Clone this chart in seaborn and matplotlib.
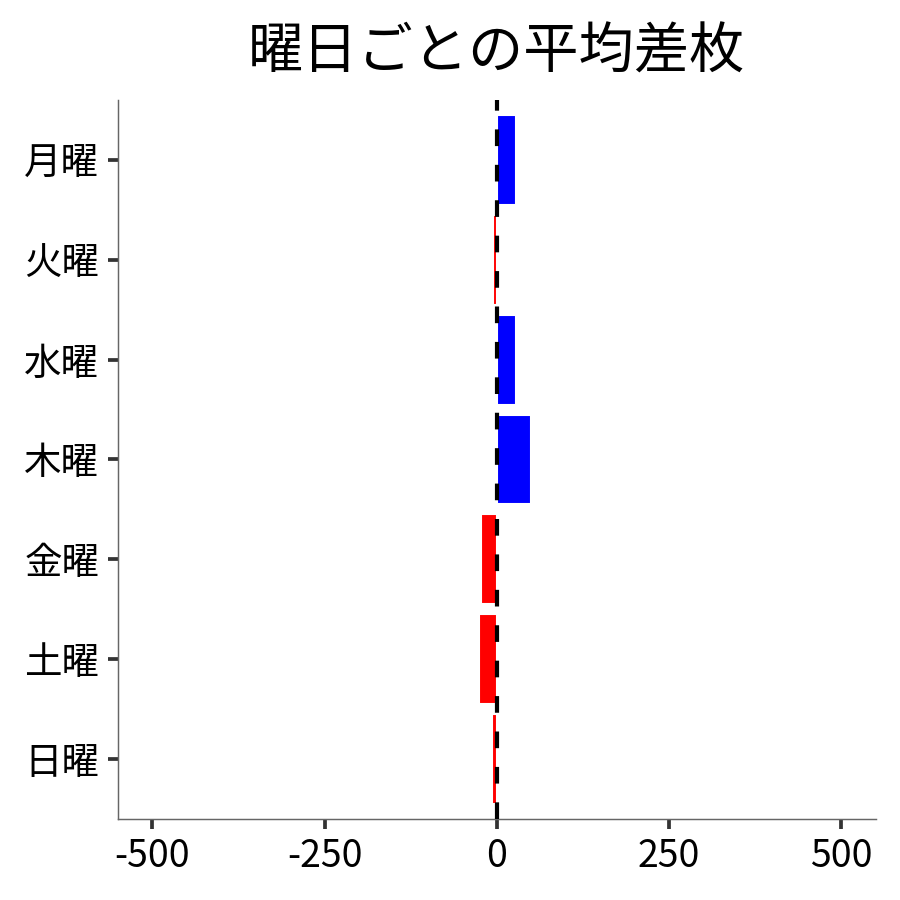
import matplotlib
matplotlib.use("Agg")
import matplotlib.pyplot as plt
import seaborn as sns
import pandas as pd

days = ["月曜", "火曜", "水曜", "木曜", "金曜", "土曜", "日曜"]
diff = [28, -5, 28, 49, -23, -26, -7]
xticks = [-500, -250, 0, 250, 500]

sns.set_style("ticks")
plt.rcParams['font.family'] = ['Noto Sans CJK JP', 'DejaVu Sans']
plt.rcParams['text.color'] = 'black'

df = pd.DataFrame({"day": days, "diff": diff})
colors = ["blue" if v >= 0 else "red" for v in diff]

fig, ax = plt.subplots(figsize=(6, 6), dpi=150)
ax.axvline(0, color="black", lw=2, linestyle=(0, (4, 4.5)), zorder=3)
sns.barplot(data=df, x="diff", y="day", hue="day", palette=colors, legend=False,
            width=0.9, saturation=1, ax=ax, orient="h", zorder=2)
ax.set_xlim(-550, 550)
ax.set_ylim(6.6, -0.6)
ax.set_xticks(xticks)
ax.set_xticklabels([str(t) for t in xticks])
ax.set_xlabel("")
ax.set_ylabel("")
ax.set_title("曜日ごとの平均差枚", fontsize=26.5, pad=15, color="black")
ax.tick_params(axis="both", labelsize=18, length=5, width=1.8, color="#333333",
               labelcolor="black")
ax.tick_params(axis="y", pad=4)
for s in ["top", "right"]:
    ax.spines[s].set_visible(False)
for s in ["left", "bottom"]:
    ax.spines[s].set_color("#666666")
    ax.spines[s].set_linewidth(0.7)
fig.subplots_adjust(left=0.131, right=0.973, top=0.889, bottom=0.09)
fig.savefig("out.png", dpi=150)
